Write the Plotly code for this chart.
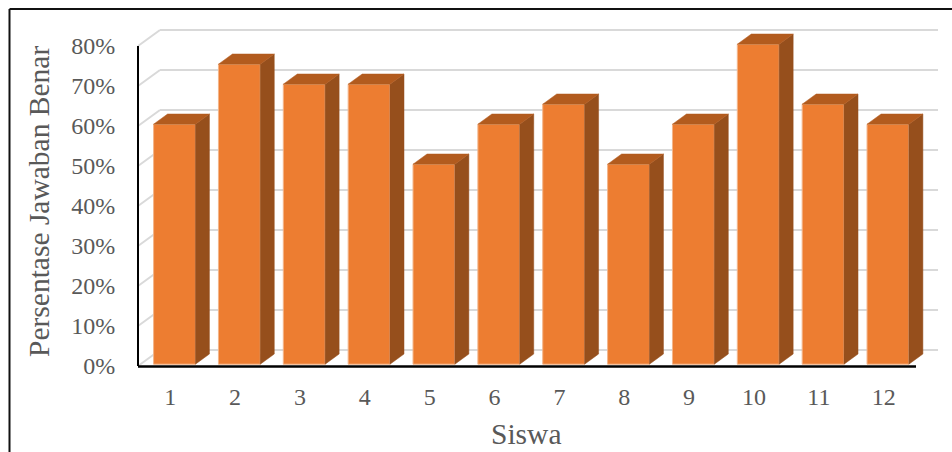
import plotly.graph_objects as go

students = list(range(1, 13))
scores = [60, 75, 70, 70, 50, 60, 65, 50, 60, 80, 65, 60]
y_ticks = [0, 10, 20, 30, 40, 50, 60, 70, 80]
y_labels = [f"{t}%" for t in y_ticks]

W, H = 952, 452
# pixel frame of the plot area
L, R, T, B = 125, 945, 20, 372
UNIT_X = 64.86           # px per category
PX0 = 174.5              # px of category 1
UNIT_Y = 4.0             # px per percent
PY0 = 366                # px of 0 %

x_range = [(L - PX0) / UNIT_X + 1, (R - PX0) / UNIT_X + 1]
y_range = [(PY0 - B) / UNIT_Y, (PY0 - T) / UNIT_Y]

BAR_W = 0.645
LIFT = 0.45
DEPTH_X = 14 / UNIT_X
DEPTH_Y = 2.55
WALL_L = (138 - PX0) / UNIT_X + 1
WALL_B = (160 - PX0) / UNIT_X + 1
WALL_R = (938 - PX0) / UNIT_X + 1
AXIS_R = (916 - PX0) / UNIT_X + 1
WALL_LIFT = 4.0

FRONT, SIDE, TOP = "#ED7D31", "#964F1C", "#B25B1E"
GRID, TEXT = "#D9D9D9", "#595959"
FONT = "Liberation Serif"

fig = go.Figure()
fig.add_trace(go.Bar(
    x=students, y=scores, base=[LIFT] * len(scores), width=BAR_W,
    marker=dict(color=FRONT, line=dict(color="#F3B58A", width=1)),
    cliponaxis=False, showlegend=False, hoverinfo="x+y"))

for s, v in zip(students, scores):
    xl, xr = s - BAR_W / 2, s + BAR_W / 2
    yb, yt = LIFT, v + LIFT
    fig.add_trace(go.Scatter(
        x=[xr, xr + DEPTH_X, xr + DEPTH_X, xr, xr],
        y=[yb, yb + DEPTH_Y, yt + DEPTH_Y, yt, yb],
        mode="lines", fill="toself", fillcolor=SIDE, line=dict(color=SIDE, width=0.5),
        showlegend=False, hoverinfo="skip"))
    fig.add_trace(go.Scatter(
        x=[xl, xl + DEPTH_X, xr + DEPTH_X, xr, xl],
        y=[yt, yt + DEPTH_Y, yt + DEPTH_Y, yt, yt],
        mode="lines", fill="toself", fillcolor=TOP, line=dict(color=TOP, width=0.5),
        showlegend=False, hoverinfo="skip"))

shapes = []
for t in y_ticks:
    shapes.append(dict(type="line", layer="below", xref="x", yref="y",
                       x0=WALL_L, y0=t, x1=WALL_B, y1=t + WALL_LIFT,
                       line=dict(color=GRID, width=2)))
    shapes.append(dict(type="line", layer="below", xref="x", yref="y",
                       x0=WALL_B, y0=t + WALL_LIFT, x1=WALL_R, y1=t + WALL_LIFT,
                       line=dict(color=GRID, width=2)))
shapes.append(dict(type="line", xref="x", yref="y", x0=WALL_L, y0=0, x1=WALL_L, y1=80,
                   line=dict(color="black", width=2)))
shapes.append(dict(type="line", xref="x", yref="y", x0=WALL_L, y0=-0.15, x1=AXIS_R, y1=-0.15,
                   line=dict(color="black", width=2.5)))
# outer frame, cropped by the picture on the right and at the bottom
shapes.append(dict(type="line", xref="paper", yref="paper", x0=9.5 / W, x1=9.5 / W,
                   y0=0, y1=1 - 9 / H, line=dict(color="#111111", width=2)))
shapes.append(dict(type="line", xref="paper", yref="paper", x0=9.5 / W, x1=1,
                   y0=1 - 9 / H, y1=1 - 9 / H, line=dict(color="#111111", width=2)))

annotations = [
    dict(text="Siswa", xref="paper", yref="paper", x=526 / W, y=1 - 434 / H,
         xanchor="center", yanchor="middle", showarrow=False,
         font=dict(size=29.5, family=FONT, color=TEXT)),
    dict(text="Persentase Jawaban Benar", xref="paper", yref="paper", x=39 / W, y=1 - 202 / H,
         xanchor="center", yanchor="middle", showarrow=False, textangle=-90,
         font=dict(size=29.5, family=FONT, color=TEXT)),
]

fig.update_layout(
    width=W, height=H, margin=dict(l=0, r=0, t=0, b=0, autoexpand=False),
    paper_bgcolor="white", plot_bgcolor="white", showlegend=False, shapes=shapes,
    annotations=annotations,
    font=dict(family=FONT, color=TEXT, size=24),
    xaxis=dict(domain=[L / W, R / W], range=x_range, showgrid=False, zeroline=False,
               showline=False, tickmode="array", tickvals=[s - 0.066 for s in students],
               ticktext=[str(s) for s in students], ticks="outside", ticklen=3,
               tickcolor="rgba(0,0,0,0)", automargin=False,
               tickfont=dict(size=24, family=FONT, color=TEXT)),
    yaxis=dict(domain=[1 - B / H, 1 - T / H], range=y_range, showgrid=False, zeroline=False,
               showline=False, tickmode="array", tickvals=y_ticks, ticktext=y_labels,
               ticks="outside", ticklen=4, tickcolor="rgba(0,0,0,0)", automargin=False,
               tickfont=dict(size=24, family=FONT, color=TEXT)),
)

fig.write_html("out.html", config=dict(displayModeBar=False),
               post_script="document.body.style.margin='0';document.documentElement.style.overflow='hidden';")
